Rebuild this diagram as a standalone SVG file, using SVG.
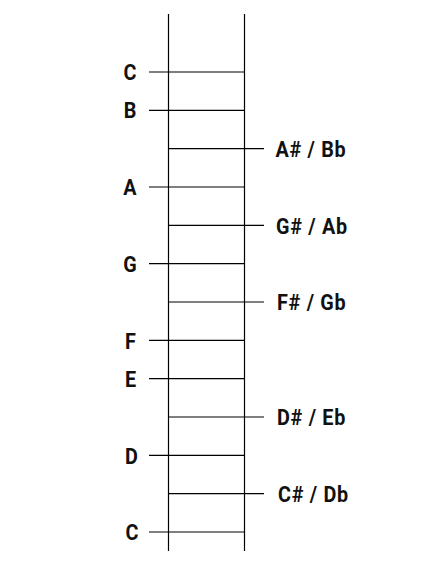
<svg xmlns="http://www.w3.org/2000/svg" width="436" height="578" viewBox="0 0 436 578">
<style>
.l{stroke:#000;stroke-width:1.2;fill:none}
.t{font-family:Roboto,"Liberation Sans",sans-serif;font-weight:bold;font-size:22px;fill:#111;letter-spacing:0.8px}
.n{text-anchor:middle;letter-spacing:0}
</style>
<rect width="436" height="578" fill="#fff"/>
<g id="connectors">
<line class="l" x1="168.5" y1="14" x2="168.5" y2="551"/>
<line class="l" x1="244.5" y1="14" x2="244.5" y2="551"/>
<line class="l" x1="149" y1="72" x2="244.5" y2="72"/>
<line class="l" x1="149" y1="110.3" x2="244.5" y2="110.3"/>
<line class="l" x1="168.5" y1="148.7" x2="264" y2="148.7"/>
<line class="l" x1="149" y1="187" x2="244.5" y2="187"/>
<line class="l" x1="168.5" y1="225.3" x2="264" y2="225.3"/>
<line class="l" x1="149" y1="263.7" x2="244.5" y2="263.7"/>
<line class="l" x1="168.5" y1="302" x2="264" y2="302"/>
<line class="l" x1="149" y1="340.3" x2="244.5" y2="340.3"/>
<line class="l" x1="149" y1="378.7" x2="244.5" y2="378.7"/>
<line class="l" x1="168.5" y1="417" x2="264" y2="417"/>
<line class="l" x1="149" y1="455.3" x2="244.5" y2="455.3"/>
<line class="l" x1="168.5" y1="493.7" x2="264" y2="493.7"/>
<line class="l" x1="149" y1="532" x2="244.5" y2="532"/>
</g>
<g id="C-high"><text class="t n" transform="translate(130,80) scale(0.9,1)">C</text></g>
<g id="B"><text class="t n" transform="translate(130,118.3) scale(0.9,1)">B</text></g>
<g id="AsBb"><text class="t" transform="translate(275.5,157) scale(0.9,1)">A# / Bb</text></g>
<g id="A"><text class="t n" transform="translate(130,195.3) scale(0.9,1)">A</text></g>
<g id="GsAb"><text class="t" transform="translate(276,233.5) scale(0.9,1)">G# / Ab</text></g>
<g id="G"><text class="t n" transform="translate(130,271.8) scale(0.9,1)">G</text></g>
<g id="FsGb"><text class="t" transform="translate(277,310.2) scale(0.9,1)">F# / Gb</text></g>
<g id="F"><text class="t n" transform="translate(130.5,348.5) scale(0.9,1)">F</text></g>
<g id="E"><text class="t n" transform="translate(130.5,386.9) scale(0.9,1)">E</text></g>
<g id="DsEb"><text class="t" transform="translate(277,425.2) scale(0.9,1)">D# / Eb</text></g>
<g id="D"><text class="t n" transform="translate(131.5,463.5) scale(0.9,1)">D</text></g>
<g id="CsDb"><text class="t" transform="translate(278,501.9) scale(0.9,1)">C# / Db</text></g>
<g id="C-low"><text class="t n" transform="translate(132,540.2) scale(0.9,1)">C</text></g>
</svg>
